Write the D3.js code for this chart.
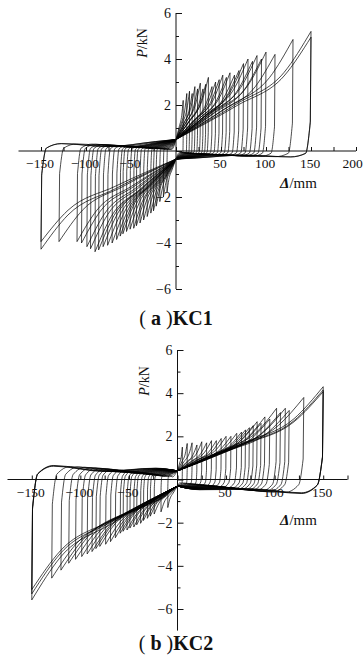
<!DOCTYPE html>
<html>
<head>
<meta charset="utf-8">
<script src="https://cdn.jsdelivr.net/npm/d3@7"></script>
<style>
  html, body { margin: 0; padding: 0; background: #fff; }
  svg { display: block; }
  text { font-family: "Liberation Serif", "Times New Roman", serif; fill: #111; }
</style>
</head>
<body>
<svg id="chart" width="363" height="661"></svg>
<script>
// KC1 cycle peaks (displacement mm, load kN)
const kc1PosDisp = [8, 12, 15, 18, 21, 24, 27, 30, 33, 36, 40, 44, 48, 52, 56, 60, 65, 70, 75, 80, 85, 90, 95, 100, 110, 130, 150, 150];
const kc1PosLoad = [2.2, 2.5, 2.6, 2.5, 2.8, 2.7, 2.95, 2.7, 2.9, 3.2, 2.8, 3.0, 3.1, 3.3, 3.2, 3.4, 3.3, 3.5, 3.8, 4.0, 3.9, 4.15, 4.0, 4.3, 4.2, 4.85, 5.2, 4.95];
const kc1NegDisp = [-10, -14, -18, -22, -25, -28, -32, -36, -40, -44, -47, -51, -55, -59, -62, -66, -71, -76, -81, -86, -90, -95, -99, -105, -110, -130, -150, -150];
const kc1NegLoad = [-1.8, -2.0, -2.2, -2.4, -2.6, -2.7, -2.85, -3.0, -3.13, -3.25, -3.36, -3.4, -3.5, -3.6, -3.7, -3.85, -4.0, -4.1, -4.16, -4.3, -4.38, -4.25, -4.16, -4.0, -3.94, -3.94, -4.27, -3.94];
// load at zero displacement [pos, neg], residual load after the drop [pos side, neg side]
const kc1Pinch = [0.5, -0.35];
const kc1Residual = [-0.2, 0.25];

// KC2 cycle peaks
const kc2PosDisp = [5, 10, 15, 20, 25, 30, 35, 40, 45, 50, 55, 61, 66, 70, 74, 78, 82, 86, 90, 95, 102, 106, 111, 115, 130, 150, 150, 150];
const kc2PosLoad = [1.5, 1.67, 1.7, 1.6, 1.75, 1.7, 1.8, 1.8, 1.9, 2.0, 2.0, 2.14, 2.2, 2.3, 2.4, 2.5, 2.68, 2.6, 2.9, 2.8, 3.3, 3.1, 3.3, 3.2, 3.8, 4.3, 4.07, 4.15];
const kc2NegDisp = [-10, -17, -24, -28, -31, -35, -38, -42, -45, -49, -52, -56, -59, -64, -69, -74, -80, -84, -88, -93, -98.6, -105, -112, -120, -129.5, -150, -150, -150];
const kc2NegLoad = [-1.3, -1.5, -1.6, -1.7, -1.8, -1.9, -2.03, -2.1, -2.2, -2.25, -2.34, -2.4, -2.49, -2.7, -2.88, -3.0, -3.1, -3.2, -3.34, -3.45, -3.57, -3.7, -3.88, -4.2, -4.57, -5.58, -5.1, -5.3];
const kc2Pinch = [0.4, -0.3];
const kc2Residual = [-0.5, 0.5];

const xTicks1 = [-150, -100, -50, 50, 100, 150, 200];
const xTicks2 = [-150, -100, -50, 50, 100, 150];
const yTicks = [-6, -4, -2, 2, 4, 6];

const W = 363;
const svg = d3.select('#chart');

function drawPanel(p) {
  const x = d3.scaleLinear().domain(p.xDomain).range(p.xRange);
  const y = d3.scaleLinear().domain([-6, 6]).range(p.yRange);
  const g = svg.append('g');

  // hysteresis loops
  const curve = d3.line().x(d => x(d[0])).y(d => y(d[1])).curve(d3.curveMonotoneX);
  const straight = d3.line().x(d => x(d[0])).y(d => y(d[1]));
  const loops = g.append('g')
    .attr('fill', 'none')
    .attr('stroke', '#000')
    .attr('stroke-width', 0.7)
    .attr('stroke-linejoin', 'round');

  const n = p.posDisp.length;
  p.posDisp.forEach((dp, i) => {
    const Pp = p.posLoad[i], dn = p.negDisp[i], Pn = p.negLoad[i];
    const p0 = p.pinch[0], n0 = p.pinch[1];
    // later (larger) cycles sit a little further from the axis
    const k = 0.4 + 0.9 * i / (n - 1);
    const rp = p.residual[0] * k, rn = p.residual[1] * k;
    const segs = [
      // push to positive peak
      [curve, [[0, p0], [0.45 * dp, p0 + 0.33 * (Pp - p0)], [0.8 * dp, p0 + 0.62 * (Pp - p0)], [dp, Pp]]],
      // sudden drop, then knee into the unloading branch
      [straight, [[dp, Pp], [0.995 * dp, 0.25 * Pp]]],
      [curve, [[0.995 * dp, 0.25 * Pp], [0.96 * dp, rp * 0.4], [0.85 * dp, rp], [0.5 * dp, rp * 0.7], [0.15 * dp, (rp + n0) / 2], [0, n0]]],
      // push to negative peak
      [curve, [[0, n0], [0.45 * dn, n0 + 0.33 * (Pn - n0)], [0.8 * dn, n0 + 0.62 * (Pn - n0)], [dn, Pn]]],
      [straight, [[dn, Pn], [0.995 * dn, 0.25 * Pn]]],
      [curve, [[0.995 * dn, 0.25 * Pn], [0.96 * dn, rn * 0.4], [0.85 * dn, rn], [0.5 * dn, rn * 0.6], [0.15 * dn, (rn + p0) / 2], [0, p0]]]
    ];
    segs.forEach(s => {
      const pts = s[1].slice();
      if (s[0] === curve && pts[0][0] > pts[pts.length - 1][0]) pts.reverse();
      loops.append('path').attr('d', s[0](pts));
    });
  });

  // axes
  const xAxis = d3.axisTop(x).tickValues(d3.range(p.xDomain[0] + 25, p.xDomain[1] + 1, 25))
    .tickSize(4).tickFormat('');
  g.append('g').attr('transform', `translate(0,${y(0)})`).call(xAxis)
    .call(a => a.select('.domain').attr('d', `M${x(p.xDomain[0])},0H${x(p.xDomain[1])}`));
  const yAxis = d3.axisRight(y).tickValues(d3.range(-6, 7, 1))
    .tickSize(0).tickFormat('');
  const ya = g.append('g').attr('transform', `translate(${x(0)},0)`).call(yAxis);
  ya.select('.domain').attr('d', `M0,${y(6)}V${y(p.yMin)}`);
  ya.selectAll('.tick line').attr('x2', d => d % 2 === 0 ? 6 : 3);
  g.selectAll('.domain, .tick line').attr('stroke', '#111').attr('stroke-width', 1);

  // tick labels
  g.selectAll('.xl').data(p.xTicks).join('text')
    .attr('x', d => Math.min(x(d) - 1, W - 10.5)).attr('y', y(0) + 17)
    .attr('text-anchor', 'middle').attr('font-size', 13.5)
    .text(d => d < 0 ? '\u2212' + Math.abs(d) : d);
  g.selectAll('.yl').data(yTicks).join('text')
    .attr('x', x(0) - 5).attr('y', d => y(d) + 5)
    .attr('text-anchor', 'end').attr('font-size', 14)
    .text(d => d < 0 ? '\u2212' + Math.abs(d) : d);

  // axis titles
  const pt = g.append('text')
    .attr('transform', `translate(${x(0) - 29},${p.pTitleY}) rotate(-90)`)
    .attr('text-anchor', 'middle').attr('font-size', 14);
  pt.append('tspan').attr('font-style', 'italic').text('P');
  pt.append('tspan').text('/kN');
  const dt = g.append('text')
    .attr('x', 280).attr('y', p.dTitleY).attr('font-size', 15);
  dt.append('tspan').attr('font-weight', 'bold').attr('font-style', 'italic').text('\u0394');
  dt.append('tspan').text('/mm');

  // caption
  const cap = g.append('text').attr('x', 176).attr('y', p.capY)
    .attr('text-anchor', 'middle').attr('font-size', 20).attr('font-weight', 'bold');
  cap.append('tspan').attr('font-weight', 'normal').text('( ');
  cap.append('tspan').text(p.letter);
  cap.append('tspan').attr('font-weight', 'normal').text(' )');
  cap.append('tspan').text(p.name);
}

drawPanel({
  xDomain: [-175, 200], xRange: [18.5, 356], yRange: [289, 13], yMin: -6,
  posDisp: kc1PosDisp, posLoad: kc1PosLoad, negDisp: kc1NegDisp, negLoad: kc1NegLoad,
  pinch: kc1Pinch, residual: kc1Residual, xTicks: xTicks1,
  pTitleY: 43, dTitleY: 188, capY: 325, letter: 'a', name: 'KC1'
});
drawPanel({
  xDomain: [-175, 175], xRange: [7.5, 347.5], yRange: [609, 350], yMin: -7,
  posDisp: kc2PosDisp, posLoad: kc2PosLoad, negDisp: kc2NegDisp, negLoad: kc2NegLoad,
  pinch: kc2Pinch, residual: kc2Residual, xTicks: xTicks2,
  pTitleY: 381, dTitleY: 525, capY: 650, letter: 'b', name: 'KC2'
});
</script>
</body>
</html>
